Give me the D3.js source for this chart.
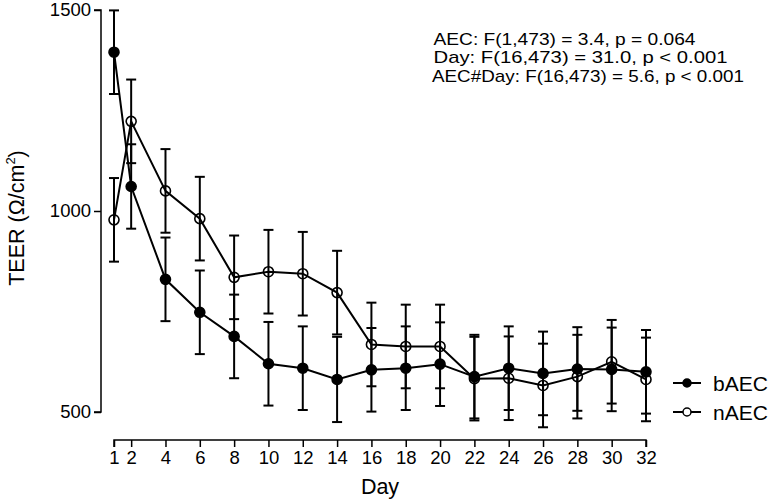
<!DOCTYPE html>
<html>
<head>
<meta charset="utf-8">
<script src="https://cdn.jsdelivr.net/npm/d3@7"></script>
<style>
  html, body { margin: 0; padding: 0; background: #fff; }
  svg { display: block; font-family: "Liberation Sans", Arial, Helvetica, sans-serif; }
</style>
</head>
<body>
<svg id="chart" width="774" height="503"></svg>
<script>
// ---- data ----
const days = [1, 2, 4, 6, 8, 10, 12, 14, 16, 18, 20, 22, 24, 26, 28, 30, 32];
const bAEC = [1395, 1061, 830, 748, 688, 620, 609, 581, 605, 609, 619, 588, 609, 596, 607, 606, 600];
const nAEC = [978, 1223, 1050, 981, 835, 849, 844, 797, 668, 663, 663, 583, 584, 566, 588, 625, 581];
const bAEC_se = [104, 105, 104, 104, 104, 104, 104, 106, 104, 104, 104, 104, 104, 104, 104, 104, 104];
const nAEC_se = [104, 104, 104, 104, 104, 104, 104, 104, 104, 104, 104, 104, 104, 104, 104, 104, 104];
const yTicks = [500, 1000, 1500];
const xTicks = days;
const seriesNames = ["bAEC", "nAEC"];
const statsLines = [
  "AEC: F(1,473) = 3.4, p = 0.064",
  "Day: F(16,473) = 31.0, p < 0.001",
  "AEC#Day: F(16,473) = 5.6, p < 0.001"
];

// ---- layout ----
const svg = d3.select("#chart");
const x = d3.scaleLinear().domain([1, 32]).range([114, 646]);
const y = d3.scaleLinear().domain([500, 1500]).range([412, 10]);

// y axis
const yAxis = svg.append("g").attr("transform", "translate(101,0)")
  .call(d3.axisLeft(y).tickValues(yTicks).tickSize(7).tickPadding(3).tickFormat(d3.format("d")));
yAxis.select(".domain").attr("d", `M-7,${y(1500)}H0V${y(500)}H-7`);
yAxis.selectAll("line, path").attr("stroke", "#000").attr("stroke-width", 1.5);
yAxis.selectAll("text").attr("font-size", 18.5).attr("fill", "#000").attr("font-family", "Liberation Sans, Arial, sans-serif");

// x axis
const xAxis = svg.append("g").attr("transform", "translate(0,440)")
  .call(d3.axisBottom(x).tickValues(xTicks).tickSize(7).tickPadding(4).tickFormat(d3.format("d")));
xAxis.select(".domain").attr("d", `M${x(1)},7V0H${x(32)}V7`);
xAxis.selectAll("line, path").attr("stroke", "#000").attr("stroke-width", 1.5);
xAxis.selectAll("text").attr("font-size", 18.5).attr("fill", "#000").attr("font-family", "Liberation Sans, Arial, sans-serif");

// axis titles
svg.append("text").attr("x", 380).attr("y", 494).attr("text-anchor", "middle")
  .attr("font-size", 21.5).text("Day");
const yl = svg.append("text").attr("transform", "translate(24,218) rotate(-90)")
  .attr("text-anchor", "middle").attr("font-size", 21.5);
yl.append("tspan").text("TEER (Ω/cm");
yl.append("tspan").attr("font-size", 13).attr("dy", -9).text("2");
yl.append("tspan").attr("dy", 9).text(")");

// series
const series = [
  { name: seriesNames[0], vals: bAEC, se: bAEC_se, fill: "#000" },
  { name: seriesNames[1], vals: nAEC, se: nAEC_se, fill: "none" }
];
const line = d3.line().x(d => x(d.day)).y(d => y(d.v));

[series[1], series[0]].forEach(s => {
  const pts = days.map((d, i) => ({ day: d, v: s.vals[i], se: s.se[i] }));
  const g = svg.append("g");
  g.append("path").datum(pts).attr("d", line).attr("fill", "none")
    .attr("stroke", "#000").attr("stroke-width", 2);
  g.selectAll("circle").data(pts).enter().append("circle")
    .attr("cx", d => x(d.day)).attr("cy", d => y(d.v)).attr("r", 5)
    .attr("fill", s.fill).attr("stroke", "#000").attr("stroke-width", 1.6);
  const eb = g.selectAll(".eb").data(pts).enter().append("g");
  eb.append("line").attr("x1", d => x(d.day)).attr("x2", d => x(d.day))
    .attr("y1", d => y(d.v + d.se)).attr("y2", d => y(d.v - d.se))
    .attr("stroke", "#000").attr("stroke-width", 2);
  eb.append("line").attr("x1", d => x(d.day) - 5).attr("x2", d => x(d.day) + 5)
    .attr("y1", d => y(d.v + d.se)).attr("y2", d => y(d.v + d.se))
    .attr("stroke", "#000").attr("stroke-width", 2);
  eb.append("line").attr("x1", d => x(d.day) - 5).attr("x2", d => x(d.day) + 5)
    .attr("y1", d => y(d.v - d.se)).attr("y2", d => y(d.v - d.se))
    .attr("stroke", "#000").attr("stroke-width", 2);
});

// legend
series.forEach((s, i) => {
  const ly = 383 + i * 29;
  svg.append("line").attr("x1", 673).attr("x2", 701).attr("y1", ly).attr("y2", ly)
    .attr("stroke", "#000").attr("stroke-width", 2);
  svg.append("circle").attr("cx", 687).attr("cy", ly).attr("r", 4)
    .attr("fill", s.fill === "none" ? "#fff" : s.fill).attr("stroke", "#000").attr("stroke-width", 1.5);
  svg.append("text").attr("x", 713).attr("y", ly + 7.5).attr("font-size", 21).text(s.name);
});

// stats annotation
const statsWidths = [262, 294, 312];
statsLines.forEach((t, i) => {
  svg.append("text").attr("x", i === 2 ? 432 : 433.5).attr("y", 44.5 + i * 18.7)
    .attr("font-size", 17)
    .attr("textLength", statsWidths[i]).attr("lengthAdjust", "spacingAndGlyphs")
    .text(t);
});
</script>
</body>
</html>
